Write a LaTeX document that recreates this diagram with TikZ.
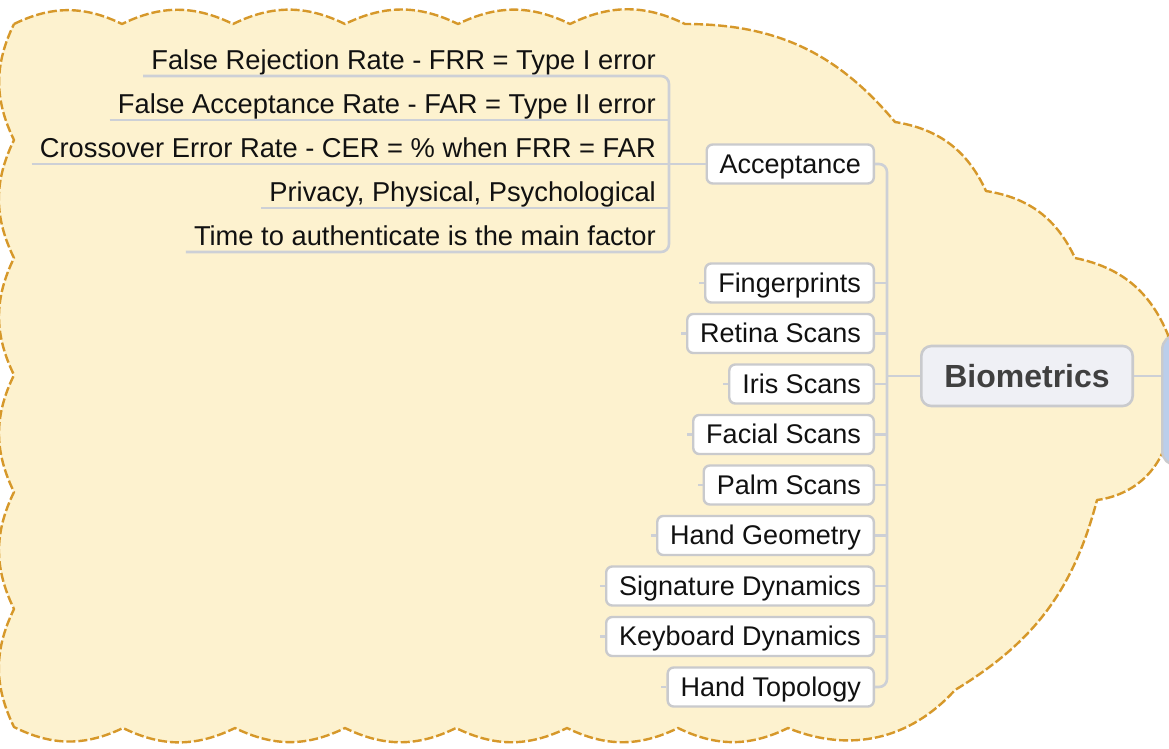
\documentclass[tikz,border=0pt]{standalone}
\usepackage{fontspec}
\setmainfont{Liberation Sans}
\usetikzlibrary{calc}
\definecolor{ink}{HTML}{111111}
\definecolor{darkink}{HTML}{404040}
\definecolor{cloudfill}{HTML}{FDF2CF}
\definecolor{cloudline}{HTML}{D6982A}
\definecolor{linkgrey}{HTML}{CDD0D6}
\definecolor{boxgrey}{HTML}{C9CACD}
\definecolor{mainfill}{HTML}{EFF0F5}
\definecolor{rootfill}{HTML}{BBCEEB}
\tikzset{
  cloud/.style={draw=cloudline, fill=cloudfill, line width=2.4pt, dash pattern=on 9pt off 3pt, line join=round},
  link/.style={draw=linkgrey, line width=2.6pt, rounded corners=8pt},
  leaf/.style={draw=boxgrey, fill=white, line width=2.4pt, rounded corners=6pt, text=ink,
    font=\fontsize{27}{32}\selectfont, inner xsep=13pt, inner ysep=0pt,
    text height=22pt, text depth=4pt, minimum height=39pt},
  topic/.style={text=ink, font=\fontsize{27.3}{32}\selectfont, inner xsep=8pt, inner ysep=0pt,
    text height=20pt, text depth=6pt, anchor=south east},
  main/.style={draw=boxgrey, fill=mainfill, line width=2.6pt, rounded corners=10pt, text=darkink,
    font=\fontsize{32}{38}\selectfont\bfseries, inner xsep=23pt, minimum height=60pt},
  root/.style={draw=boxgrey, fill=rootfill, line width=2.4pt, rounded corners=14pt},
}

\begin{document}
\begin{tikzpicture}[x=1pt, y=-1pt]
  \useasboundingbox[fill=white] (0,0) rectangle (1169,748);
  % boundary cloud
  \draw[cloud] (14,24) to[bend left=26] (122,24) to[bend left=26] (233,24)
    to[bend left=26] (345,24) to[bend left=26] (458,24) to[bend left=26] (570,24)
    to[bend left=26] (685,24) to[bend left=25] (895,122) to[bend left=28] (986,191)
    to[bend left=28] (1075,258) to[bend left=28] (1168,335) -- (1170,420)
    to[bend left=40] (1097,500) to[bend left=22] (955,690) to[bend left=35] (788,728)
    to[bend left=26] (678,728) to[bend left=26] (567,728) to[bend left=26] (456,728)
    to[bend left=26] (345,728) to[bend left=26] (235,728) to[bend left=26] (123,728)
    to[bend left=26] (14,727) to[bend left=26] (14,609) to[bend left=26] (14,492)
    to[bend left=26] (14,375) to[bend left=26] (14,258) to[bend left=26] (14,140)
    to[bend left=26] (14,24) -- cycle;

  \coordinate (trunk) at (887,0);
  \coordinate (split) at (669,0);

  \node[root, minimum width=60pt, minimum height=130pt, anchor=north west] (root) at (1161,334) {};
  \node[main] (bio) at (1027,376) {Biometrics};
  \node[leaf, anchor=east] (acc) at (875,164) {Acceptance};
  \foreach \n/\txt [count=\i from 0] in {fing/Fingerprints, ret/Retina Scans, iris/Iris Scans,
      face/Facial Scans, palm/Palm Scans, hgeo/Hand Geometry, sig/Signature Dynamics,
      key/Keyboard Dynamics, htop/Hand Topology}
    \node[leaf, anchor=east] (\n) at (875,{283+50.5*\i}) {\txt};

  % details under Acceptance
  \node[topic] (frr) at (664,76) {False Rejection Rate - FRR = Type I error};
  \node[topic] (far) at (664,120) {False Acceptance Rate - FAR = Type II error};
  \node[topic] (cer) at (664,164) {Crossover Error Rate - CER = \% when FRR = FAR};
  \node[topic] (pri) at (664,208) {Privacy, Physical, Psychological};
  \node[topic] (tim) at (664,252) {Time to authenticate is the main factor};

  \draw[link] (frr.south west) -- (frr.south east -| split) -- (tim.south east -| split) -- (tim.south west);
  \draw[link] (far.south west) -- (far.south east -| split);
  \draw[link] (pri.south west) -- (pri.south east -| split);
  \draw[link] (cer.south west) -- (cer.south west -| acc.west);

  \draw[link] (acc.east) -- (acc.east -| trunk) -- (htop.east -| trunk) -- (htop.east);
  \foreach \n in {fing,ret,iris,face,palm,hgeo,sig,key}
    \draw[link] (\n.east) -- (\n.east -| trunk);
  \foreach \n in {fing,ret,iris,face,palm,hgeo,sig,key,htop}
    \draw[link] (\n.west) -- ++(-5,0);
  \draw[link] (bio.west) -- (bio.west -| trunk);
  \draw[link] (bio.east) -- (bio.east -| root.west);
\end{tikzpicture}
\end{document}
